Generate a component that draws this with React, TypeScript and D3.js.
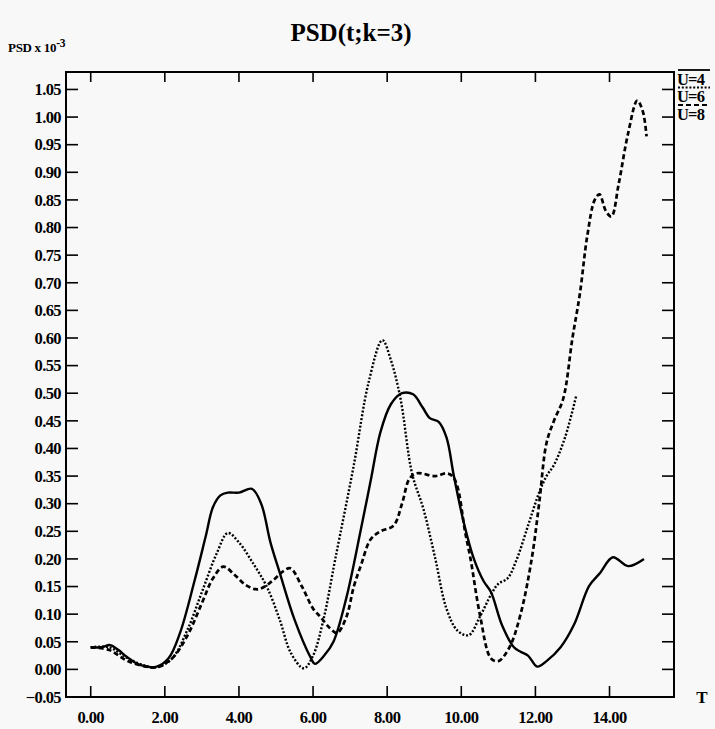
import React from 'react';
import * as d3 from 'd3';

const xTickValues = [0, 2, 4, 6, 8, 10, 12, 14];
const yTickValues = [-0.05, 0.0, 0.05, 0.1, 0.15, 0.2, 0.25, 0.3, 0.35, 0.4, 0.45, 0.5, 0.55, 0.6, 0.65, 0.7, 0.75, 0.8, 0.85, 0.9, 0.95, 1.0, 1.05];

const legendLabels = ['U=4', 'U=6', 'U=8'];

// U=4 : solid
const u4Data: [number, number][] = [
  [0, 0.04], [0.3, 0.04], [0.52, 0.044], [0.75, 0.035], [0.97, 0.023], [1.33, 0.008], [1.78, 0.005],
  [2.1, 0.02], [2.41, 0.066], [2.8, 0.16], [3.1, 0.24], [3.3, 0.294], [3.5, 0.315], [3.7, 0.32],
  [4.0, 0.32], [4.35, 0.327], [4.6, 0.3], [4.85, 0.23], [5.1, 0.175], [5.5, 0.09], [5.93, 0.022],
  [6.05, 0.01], [6.3, 0.025], [6.55, 0.05], [6.9, 0.13], [7.28, 0.25], [7.55, 0.34], [7.82, 0.43],
  [8.1, 0.48], [8.4, 0.5], [8.7, 0.498], [8.95, 0.475], [9.15, 0.455], [9.39, 0.448], [9.6, 0.42],
  [9.8, 0.35], [10.07, 0.265], [10.34, 0.2], [10.6, 0.16], [10.8, 0.14], [11.1, 0.08], [11.42, 0.04],
  [11.6, 0.032], [11.8, 0.025], [12.05, 0.005], [12.3, 0.015], [12.68, 0.04], [13.05, 0.082],
  [13.45, 0.151], [13.75, 0.175], [14.09, 0.203], [14.5, 0.187], [14.93, 0.2],
];

// U=6 : dotted
const u6Data: [number, number][] = [
  [0, 0.04], [0.5, 0.04], [1.0, 0.02], [1.5, 0.006], [1.8, 0.004], [2.2, 0.02], [2.6, 0.07],
  [3.0, 0.14], [3.4, 0.21], [3.7, 0.247], [4.0, 0.23], [4.4, 0.19], [4.75, 0.15], [5.1, 0.09],
  [5.4, 0.03], [5.75, 0.002], [6.0, 0.025], [6.28, 0.09], [6.6, 0.2], [7.1, 0.37], [7.5, 0.52],
  [7.87, 0.596], [8.1, 0.56], [8.36, 0.49], [8.67, 0.355], [8.98, 0.29], [9.3, 0.2], [9.6, 0.11],
  [9.9, 0.07], [10.2, 0.062], [10.5, 0.095], [10.8, 0.135], [11.0, 0.155], [11.25, 0.165],
  [11.5, 0.2], [11.8, 0.26], [12.1, 0.32], [12.3, 0.35], [12.5, 0.37], [12.8, 0.42], [13.1, 0.495],
];

// U=8 : dashed
const u8Data: [number, number][] = [
  [0, 0.04], [0.5, 0.035], [1.0, 0.015], [1.5, 0.005], [1.8, 0.004], [2.2, 0.02], [2.6, 0.06],
  [3.0, 0.12], [3.3, 0.165], [3.58, 0.186], [3.9, 0.17], [4.2, 0.152], [4.52, 0.145], [4.9, 0.16],
  [5.2, 0.178], [5.39, 0.183], [5.7, 0.15], [6.0, 0.11], [6.2, 0.095], [6.45, 0.075], [6.65, 0.066],
  [6.9, 0.095], [7.1, 0.15], [7.3, 0.19], [7.55, 0.235], [7.82, 0.25], [8.17, 0.26], [8.4, 0.3],
  [8.6, 0.345], [8.8, 0.355], [9.3, 0.35], [9.6, 0.355], [9.76, 0.35], [9.9, 0.33], [10.1, 0.25],
  [10.25, 0.2], [10.5, 0.1], [10.8, 0.02], [11.0, 0.015], [11.3, 0.04], [11.6, 0.1], [11.9, 0.2],
  [12.1, 0.3], [12.3, 0.41], [12.5, 0.45], [12.75, 0.49], [13.0, 0.6], [13.2, 0.68], [13.4, 0.785],
  [13.6, 0.85], [13.73, 0.86], [13.9, 0.83], [14.05, 0.82], [14.25, 0.88], [14.5, 0.97],
  [14.75, 1.03], [14.9, 1.01], [15.0, 0.965],
];

const W = 715;
const H = 729;
const left = 66, right = 674, top = 72, bottom = 697;
const font = '"Liberation Serif", "Times New Roman", serif';

export default function App() {
  const x = d3.scaleLinear().domain([-0.667, 15.74]).range([left, right]);
  const y = d3.scaleLinear().domain([-0.05, 1.0816]).range([bottom, top]);
  const line = d3
    .line<[number, number]>()
    .x((d) => x(d[0]))
    .y((d) => y(d[1]))
    .curve(d3.curveCatmullRom.alpha(0.5));

  const series = [
    { data: u4Data, dash: 'none', width: 2.4 },
    { data: u6Data, dash: '2,1.8', width: 2.4 },
    { data: u8Data, dash: '5,3', width: 2.7 },
  ];

  return (
    <svg
      width={W}
      height={H}
      style={{ position: 'absolute', left: 0, top: 0, background: '#f8f8f8' }}
      fontFamily={font}
    >
      <text x={351} y={41} textAnchor="middle" fontSize={25} fontWeight="bold">
        PSD(t;k=3)
      </text>
      <text x={8} y={52} fontSize={13} fontWeight="bold" letterSpacing={-0.3}>
        PSD x 10
        <tspan dy={-5} fontSize={11.5}>-3</tspan>
      </text>

      <rect x={left} y={top} width={right - left} height={bottom - top} fill="none" stroke="#000" strokeWidth={2} />

      {yTickValues.map((v) => (
        <g key={'y' + v}>
          <line x1={left} x2={left + 12} y1={y(v)} y2={y(v)} stroke="#000" strokeWidth={1.6} />
          <line x1={right - 12} x2={right} y1={y(v)} y2={y(v)} stroke="#000" strokeWidth={1.6} />
          <text x={61} y={y(v)} dy="0.35em" textAnchor="end" fontSize={16.5} fontWeight="bold" letterSpacing={-0.6}>
            {d3.format('.2f')(v)}
          </text>
        </g>
      ))}

      {xTickValues.map((t) => (
        <g key={'x' + t}>
          <line x1={x(t)} x2={x(t)} y1={bottom} y2={bottom - 11} stroke="#000" strokeWidth={1.6} />
          <line x1={x(t)} x2={x(t)} y1={top} y2={top + 10} stroke="#000" strokeWidth={1.6} />
          <text x={x(t)} y={723} textAnchor="middle" fontSize={16.5} fontWeight="bold" letterSpacing={-0.6}>
            {d3.format('.2f')(t)}
          </text>
        </g>
      ))}

      <text x={702} y={703} textAnchor="middle" fontSize={17} fontWeight="bold">T</text>

      {series.map((s, i) => (
        <path
          key={'s' + i}
          d={line(s.data) || ''}
          fill="none"
          stroke="#000"
          strokeWidth={s.width}
          strokeDasharray={s.dash}
          strokeLinejoin="round"
        />
      ))}

      {legendLabels.map((lab, i) => (
        <g key={'l' + i}>
          <line
            x1={678}
            x2={710}
            y1={70 + i * 17.5}
            y2={70 + i * 17.5}
            stroke="#000"
            strokeWidth={1.8}
            strokeDasharray={series[i].dash}
          />
          <text x={677} y={84.5 + i * 17.5} fontSize={16.5} fontWeight="bold" letterSpacing={-0.8}>
            {lab}
          </text>
        </g>
      ))}
    </svg>
  );
}
